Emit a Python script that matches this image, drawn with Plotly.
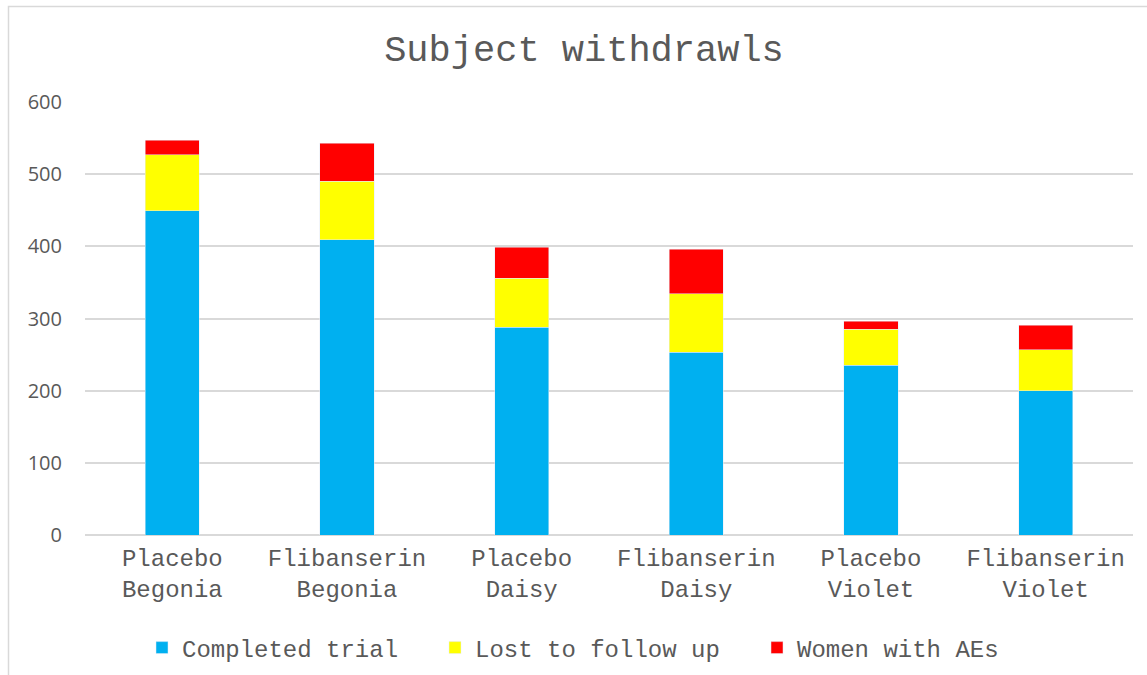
import plotly.graph_objects as go

categories = ["Placebo<br>Begonia", "Flibanserin<br>Begonia", "Placebo<br>Daisy",
              "Flibanserin<br>Daisy", "Placebo<br>Violet", "Flibanserin<br>Violet"]
completed = [449, 409, 288, 253, 235, 200]
lost = [78, 81, 68, 81, 50, 57]
aes = [20, 53, 43, 62, 11, 34]
y_ticks = [0, 100, 200, 300, 400, 500, 600]

mono = "Courier New, Liberation Mono, monospace"
gray = "#595959"

fig = go.Figure()
fig.add_bar(x=categories, y=completed, name="Completed trial", marker_color="#00B0F0",
            legendwidth=248)
fig.add_bar(x=categories, y=lost, name="Lost to follow up", marker_color="#FFFF00",
            legendwidth=277)
fig.add_bar(x=categories, y=aes, name="Women with AEs", marker_color="#FF0000")

W, H = 1147, 675
L, R, T, B = 85, 1133, 102, 535
pw, ph = R - L, B - T

def px(x):
    return (x - L) / pw

def py(y):
    return (B - y) / ph

fig.update_layout(
    width=W, height=H,
    barmode="stack",
    bargap=0.69,
    plot_bgcolor="white", paper_bgcolor="white",
    margin=dict(l=L, r=W - R, t=T, b=H - B, pad=0, autoexpand=False),
    title=dict(text="Subject withdrawls", x=px(584), xref="paper", xanchor="center",
               y=1 - 48 / H, yref="container", yanchor="middle",
               font=dict(family=mono, size=37, color=gray)),
    font=dict(family=mono, color=gray),
    showlegend=True,
    legend=dict(orientation="h", x=px(142), xref="paper", xanchor="left",
                y=py(648), yanchor="middle", traceorder="normal",
                font=dict(family=mono, size=24, color=gray)),
    xaxis=dict(showgrid=False, showline=False, ticks="", automargin=False,
               tickfont=dict(family=mono, size=24, color=gray), ticklabelstandoff=6),
    yaxis=dict(range=[0, 600], tickvals=y_ticks, showgrid=True, gridcolor="#d9d9d9",
               gridwidth=1.5, zeroline=True, zerolinecolor="#d9d9d9", zerolinewidth=1.5,
               showline=False, ticks="", ticklabelstandoff=22, automargin=False,
               tickfont=dict(family="Open Sans, Liberation Sans, sans-serif", size=20, color=gray)),
    shapes=[dict(type="rect", xref="paper", yref="paper",
                 x0=px(8.5), x1=px(1200), y0=py(720), y1=py(6.5),
                 line=dict(color="#d9d9d9", width=1.5), fillcolor="rgba(0,0,0,0)", layer="below")],
)

fig.write_html("out.html")
